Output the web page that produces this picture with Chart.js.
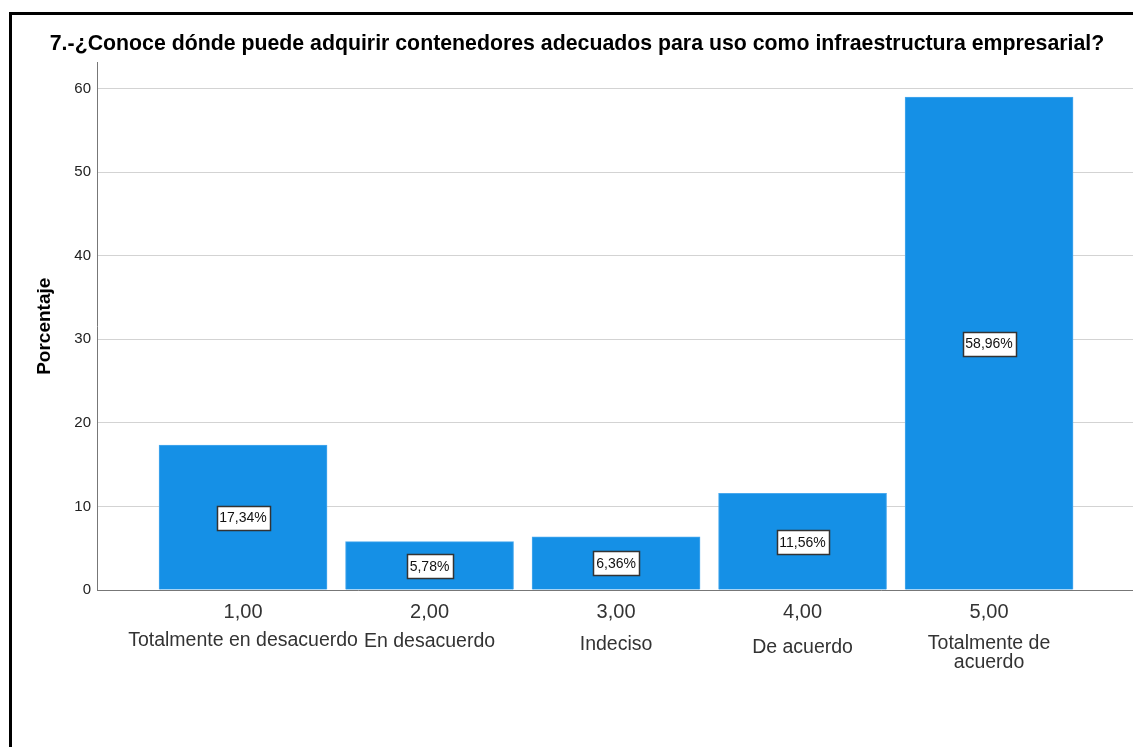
<!DOCTYPE html>
<html>
<head>
<meta charset="utf-8">
<script src="https://cdn.jsdelivr.net/npm/chart.js"></script>
<style>
    body { margin: 0; background: #fff; overflow: hidden; }
    #frame { position: absolute; left: 9px; top: 12px; border-left: 3px solid #000; border-top: 3px solid #000; }
    canvas { display: block; }
</style>
</head>
<body>
<div id="frame"><canvas id="chart" style="width:1130px;height:735px"></canvas></div>

<script>
    // data
    const codes = [1, 2, 3, 4, 5];
    const codeLabels = ['1,00', '2,00', '3,00', '4,00', '5,00'];
    const categories = [
        ['Totalmente en desacuerdo'],
        ['En desacuerdo'],
        ['Indeciso'],
        ['De acuerdo'],
        ['Totalmente de', 'acuerdo']
    ];
    const percentages = [17.34, 5.78, 6.36, 11.56, 58.96];
    const valueLabels = ['17,34%', '5,78%', '6,36%', '11,56%', '58,96%'];
    const yTicks = [0, 10, 20, 30, 40, 50, 60];

    // SPSS puts each category name at a slightly different height
    const catOffset = [51, 52, 55, 58, 54];

    const FONT = 'Liberation Sans, Arial, sans-serif';

    // boxed value label in the middle of each bar
    const boxLabels = {
        id: 'boxLabels',
        afterDatasetsDraw(chart) {
            const ctx = chart.ctx;
            const meta = chart.getDatasetMeta(0);
            const yScale = chart.scales.y;
            ctx.save();
            ctx.font = '14px ' + FONT;
            ctx.textAlign = 'center';
            ctx.textBaseline = 'middle';
            meta.data.forEach((bar, i) => {
                const y = yScale.getPixelForValue(percentages[i] / 2);
                const w = Math.round(ctx.measureText(valueLabels[i]).width + 6);
                const h = 24;
                const left = Math.round(bar.x - w / 2);
                const top = Math.round(y - h / 2);
                ctx.fillStyle = '#fff';
                ctx.fillRect(left, top, w, h);
                ctx.strokeStyle = '#333';
                ctx.lineWidth = 1.5;
                ctx.strokeRect(left + 0.5, top + 0.5, w, h);
                ctx.fillStyle = '#111';
                ctx.fillText(valueLabels[i], bar.x, y + 1);
            });
            ctx.restore();
        }
    };

    // category names under the code ticks
    const categoryNames = {
        id: 'categoryNames',
        afterDraw(chart) {
            const ctx = chart.ctx;
            const xScale = chart.scales.x;
            ctx.save();
            ctx.fillStyle = '#333';
            ctx.textAlign = 'center';
            ctx.textBaseline = 'middle';
            ctx.font = '19.5px ' + FONT;
            codes.forEach((c, i) => {
                const x = xScale.getPixelForValue(c);
                categories[i].forEach((line, j) => {
                    ctx.fillText(line, x, xScale.top + catOffset[i] + j * 19);
                });
            });
            ctx.restore();
        }
    };

    new Chart(document.getElementById('chart'), {
        type: 'bar',
        data: {
            datasets: [{
                data: codes.map((c, i) => ({ x: c, y: percentages[i] })),
                backgroundColor: '#1590e6',
                borderColor: '#49a9ee',
                borderWidth: 1,
                barThickness: 168
            }]
        },
        options: {
            responsive: false,
            animation: false,
            layout: { padding: 0 },
            plugins: {
                legend: { display: false },
                tooltip: { enabled: false },
                title: {
                    display: true,
                    text: '7.-¿Conoce dónde puede adquirir contenedores adecuados para uso como infraestructura empresarial?',
                    color: '#000',
                    font: { family: FONT, size: 21.3, weight: 'bold' },
                    padding: { top: 16, bottom: 6 }
                }
            },
            scales: {
                x: {
                    type: 'linear',
                    offset: false,
                    min: 0.217,
                    max: 5.82,
                    grid: { display: false, drawTicks: false },
                    border: { display: true, color: '#777' },
                    afterBuildTicks: (scale) => { scale.ticks = codes.map(v => ({ value: v })); },
                    afterFit: (scale) => { scale.height = 160; },
                    ticks: {
                        padding: 10,
                        color: '#333',
                        font: { family: FONT, size: 20 },
                        callback: (v) => codeLabels[codes.indexOf(v)]
                    }
                },
                y: {
                    min: 0,
                    max: 63.1,
                    grid: { color: '#d3d3d3', drawTicks: false },
                    border: { display: true, color: '#777' },
                    afterBuildTicks: (scale) => { scale.ticks = yTicks.map(v => ({ value: v })); },
                    afterFit: (scale) => { scale.width = 85; },
                    ticks: {
                        padding: 6,
                        color: '#222',
                        font: { family: FONT, size: 15 }
                    },
                    title: {
                        display: true,
                        text: 'Porcentaje',
                        color: '#000',
                        font: { family: FONT, size: 19, weight: 'bold' },
                        padding: { top: 21, bottom: 0 }
                    }
                }
            }
        },
        plugins: [boxLabels, categoryNames]
    });
</script>
</body>
</html>
